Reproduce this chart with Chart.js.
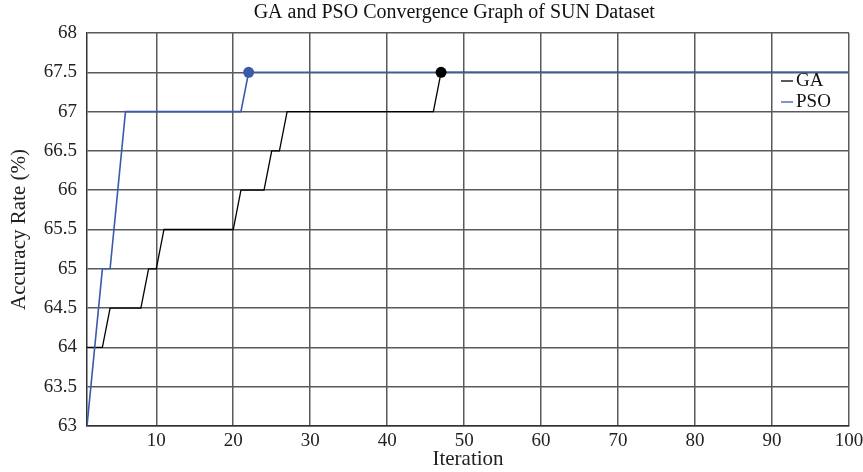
<!DOCTYPE html>
<html>
<head>
<meta charset="utf-8">
<script src="https://cdn.jsdelivr.net/npm/chart.js@4/dist/chart.umd.min.js"></script>
<style>
  html, body { margin: 0; padding: 0; background: #fff; }
  #wrap { width: 863px; height: 472px; }
</style>
</head>
<body>
<div id="wrap"><canvas id="convergence"></canvas></div>
<script>
// step points (iteration, accuracy %)
const gaIter = [1, 3, 4, 8, 9, 10, 11, 20, 21, 24, 25, 26, 27, 46, 47, 100];
const gaAcc = [64, 64, 64.5, 64.5, 65, 65, 65.5, 65.5, 66, 66, 66.5, 66.5, 67, 67, 67.5, 67.5];
const psoIter = [1, 3, 4, 6, 21, 22, 100];
const psoAcc = [63, 65, 65, 67, 67, 67.5, 67.5];
const xTicks = [10, 20, 30, 40, 50, 60, 70, 80, 90, 100];
const chartTitle = "GA and PSO Convergence Graph of SUN Dataset";

const FONT = "'Liberation Serif', 'DejaVu Serif', serif";
const gaColor = "#000000";
const psoColor = "#3b5ba9";

function toPoints(xs, ys) {
  return xs.map((x, i) => ({ x: x, y: ys[i] }));
}

// first point where the best accuracy is reached gets the dot
function bestIndex(ys) {
  return ys.indexOf(Math.max(...ys));
}
const gaBest = bestIndex(gaAcc);
const psoBest = bestIndex(psoAcc);

// title + legend drawn by hand so they sit where the original has them
const decorations = {
  id: "decorations",
  afterDraw(chart) {
    const { ctx, chartArea } = chart;
    ctx.save();
    ctx.fillStyle = "#111";
    ctx.font = "20px " + FONT;
    ctx.textAlign = "center";
    ctx.textBaseline = "middle";
    ctx.fillText(chartTitle, chartArea.left + chartArea.width * 0.482, 13);

    const items = chart.data.datasets.filter((d) => d.label);
    ctx.font = "19px " + FONT;
    ctx.textAlign = "left";
    items.forEach((ds, i) => {
      const y = chartArea.top + 48 + i * 21;
      const x0 = chartArea.right - 68;
      ctx.strokeStyle = ds.borderColor;
      ctx.lineWidth = 1.3;
      ctx.beginPath();
      ctx.moveTo(x0, y);
      ctx.lineTo(x0 + 12, y);
      ctx.stroke();
      ctx.fillStyle = "#111";
      ctx.fillText(ds.label, x0 + 15, y);
    });
    ctx.restore();
  },
};

new Chart(document.getElementById("convergence"), {
  type: "line",
  data: {
    datasets: [
      {
        label: "GA",
        data: toPoints(gaIter, gaAcc),
        borderColor: gaColor,
        borderWidth: 1.3,
        pointRadius: 0,
        order: 2,
      },
      {
        label: "PSO",
        data: toPoints(psoIter, psoAcc),
        borderColor: psoColor,
        backgroundColor: psoColor,
        borderWidth: 1.6,
        pointRadius: (c) => (c.dataIndex === psoBest ? 5.5 : 0),
        pointBorderWidth: 0,
        order: 1,
      },
      {
        data: [{ x: gaIter[gaBest], y: gaAcc[gaBest] }],
        showLine: false,
        backgroundColor: gaColor,
        borderColor: gaColor,
        pointRadius: 5.5,
        pointBorderWidth: 0,
        order: 0,
      },
    ],
  },
  plugins: [decorations],
  options: {
    responsive: true,
    maintainAspectRatio: false,
    animation: false,
    layout: { padding: { top: 33, right: 14, bottom: 0, left: 0 } },
    plugins: {
      legend: { display: false },
      tooltip: { enabled: false },
      title: { display: false },
    },
    scales: {
      x: {
        type: "linear",
        min: 1,
        max: 100,
        afterBuildTicks: (scale) => {
          scale.ticks = xTicks.map((v) => ({ value: v }));
        },
        afterFit: (scale) => {
          scale.height = 46;
          scale.paddingRight = 0;
          scale.paddingLeft = 0;
        },
        grid: { color: "#5a5a5a", lineWidth: 1.5, drawTicks: false },
        border: { display: true, color: "#333", width: 1.5 },
        ticks: {
          color: "#222",
          padding: 4,
          maxRotation: 0,
          font: { family: FONT, size: 19 },
        },
        title: {
          display: true,
          text: "Iteration",
          color: "#222",
          font: { family: FONT, size: 21 },
          padding: { top: 0, bottom: 0 },
        },
      },
      y: {
        min: 63,
        max: 68,
        afterFit: (scale) => {
          scale.width = 87;
          scale.paddingTop = 0;
          scale.paddingBottom = 0;
        },
        grid: { color: "#5a5a5a", lineWidth: 1.5, drawTicks: false },
        border: { display: true, color: "#333", width: 1.5 },
        ticks: {
          stepSize: 0.5,
          color: "#222",
          padding: 10,
          font: { family: FONT, size: 19 },
          callback: (v) => String(v),
        },
        title: {
          display: true,
          text: "Accuracy Rate (%)",
          color: "#222",
          font: { family: FONT, size: 21 },
          padding: { top: 7, bottom: 0 },
        },
      },
    },
  },
});
</script>
</body>
</html>
